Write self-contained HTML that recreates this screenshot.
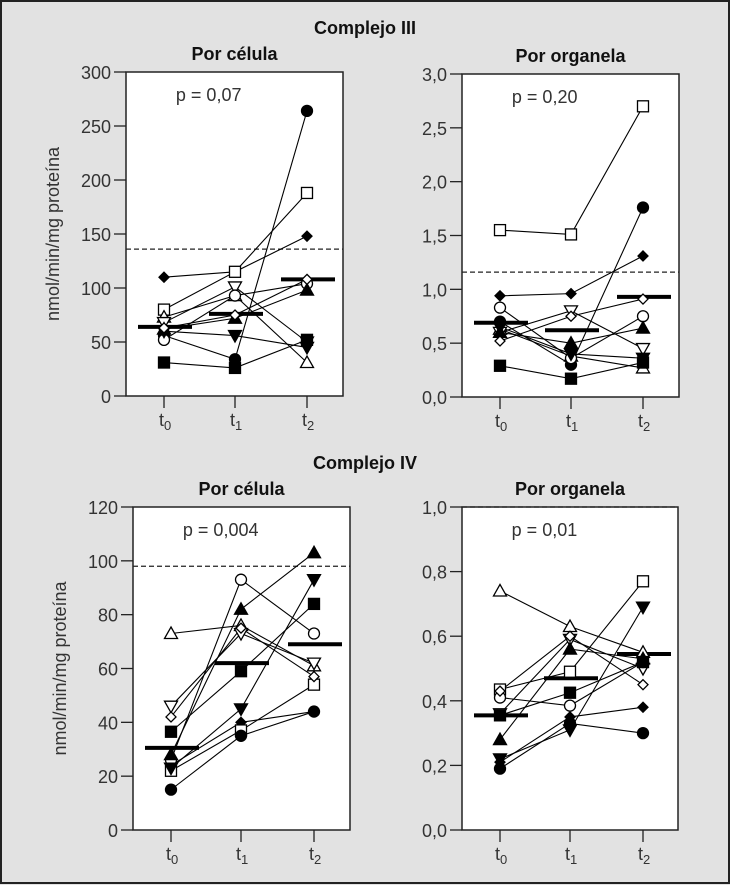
<!DOCTYPE html>
<html><head><meta charset="utf-8"><style>
html,body{margin:0;padding:0;background:#e2e2e2;}
svg{display:block;}
.t{font-family:"Liberation Sans Narrow","Liberation Sans",sans-serif;font-weight:bold;font-size:18px;fill:#111;}
.k{font-family:"Liberation Sans",sans-serif;font-size:18px;fill:#333;}
</style></head><body>
<svg id="c" width="730" height="885" xmlns="http://www.w3.org/2000/svg">
<rect x="1" y="1" width="728" height="882" fill="#e2e2e2" stroke="#222" stroke-width="2"/>
<text class="t" x="365" y="34" text-anchor="middle">Complejo III</text>
<text class="t" x="365" y="469" text-anchor="middle">Complejo IV</text>
</svg>
<script>
// Series categories
const timepoints = ["t0","t1","t2"];
const markers = ["fDiam","oSq","fCirc","oTri","oDown","oCirc","fTri","fDown","fSq","oDiam"];
// Panel 1: Complejo III por célula
const p1Values = [[110,115,148],[80,115,188],[56,34,264],[73,93,31],[68,101,50],[52,93,104],[62,72,98],[60,56,45],[31,26,52],[63,75,108]];
const p1Means = [64,76,108];
const p1Ref = 136;
const p1Ticks = [0,50,100,150,200,250,300];
const p1TickLabels = ["0","50","100","150","200","250","300"];
// Panel 2: Complejo III por organela
const p2Values = [[0.94,0.96,1.31],[1.55,1.51,2.70],[0.70,0.30,1.76],[0.63,0.38,0.27],[0.60,0.80,0.45],[0.83,0.36,0.75],[0.60,0.50,0.64],[0.65,0.40,0.36],[0.29,0.17,0.32],[0.52,0.75,0.91]];
const p2Means = [0.69,0.62,0.93];
const p2Ref = 1.16;
const p2Ticks = [0,0.5,1,1.5,2,2.5,3];
const p2TickLabels = ["0,0","0,5","1,0","1,5","2,0","2,5","3,0"];
// Panel 3: Complejo IV por célula
const p3Values = [[24,40,44],[22,37,54],[15,35,44],[73,76,61],[46,73,62],[26,93,73],[28,82,103],[23,45,93],[36.5,59,84],[42,75,57]];
const p3Means = [30.5,62,69];
const p3Ref = 98;
const p3Ticks = [0,20,40,60,80,100,120];
const p3TickLabels = ["0","20","40","60","80","100","120"];
// Panel 4: Complejo IV por organela
const p4Values = [[0.21,0.35,0.38],[0.435,0.49,0.77],[0.19,0.33,0.30],[0.74,0.63,0.55],[0.36,0.59,0.50],[0.41,0.385,0.52],[0.28,0.56,0.53],[0.22,0.31,0.69],[0.355,0.425,0.52],[0.43,0.60,0.45]];
const p4Means = [0.355,0.47,0.545];
const p4Ref = 1.0;
const p4Ticks = [0,0.2,0.4,0.6,0.8,1.0];
const p4TickLabels = ["0,0","0,2","0,4","0,6","0,8","1,0"];

const NS="http://www.w3.org/2000/svg";
const svg=document.getElementById('c');
function mk(tag,attrs,parent){const e=document.createElementNS(NS,tag);for(const k in attrs)e.setAttribute(k,attrs[k]);(parent||svg).appendChild(e);return e;}

function marker(g,type,x,y){
  const fill=type[0]==='f'?'#000':'#fff';const s=type.slice(1);let e;
  const st={fill:fill,stroke:'#000','stroke-width':1.3};
  if(s==='Sq'){e=mk('rect',Object.assign({x:x-5.5,y:y-5.5,width:11,height:11},st),g);}
  else if(s==='Circ'){e=mk('circle',Object.assign({cx:x,cy:y,r:5.5},st),g);}
  else if(s==='Tri'){e=mk('polygon',Object.assign({points:`${x},${y-6.5} ${x-6.5},${y+5} ${x+6.5},${y+5}`},st),g);}
  else if(s==='Down'){e=mk('polygon',Object.assign({points:`${x},${y+6.5} ${x-6.5},${y-5} ${x+6.5},${y-5}`},st),g);}
  else {e=mk('polygon',Object.assign({points:`${x},${y-5} ${x+5},${y} ${x},${y+5} ${x-5},${y}`},st),g);}
  
  
}

function panel(id,cfg,values,means,ref,ticks,tickLabels){
  const g=mk('g',{});
  
  
  const {l,r,t,b,ymax,xs,title,ylab}=cfg;
  const ys=v=>b-(v/ymax)*(b-t);
  const xp=i=>xs[i];
  const box=mk('rect',{x:l,y:t,width:r-l,height:b-t,fill:'#fff',stroke:'#222','stroke-width':1.5},g);
  
  
  const tt=mk('text',{class:'t',x:(l+r)/2,y:t-12,'text-anchor':'middle'},g);tt.textContent=title;
  
  
  ticks.forEach((v,i)=>{
    mk('line',{x1:l-12,x2:l,y1:ys(v),y2:ys(v),stroke:'#222','stroke-width':1.3},g);
    const tl=mk('text',{class:'k',x:l-15,y:ys(v)+7,'text-anchor':'end','font-size':'20'},g);tl.textContent=tickLabels[i];
    
    
  });
  timepoints.forEach((tp,i)=>{
    mk('line',{x1:xp(i),x2:xp(i),y1:b,y2:b+12,stroke:'#222','stroke-width':1.3},g);
    const tx=mk('text',{class:'k',x:xp(i)-5,y:b+30,'font-size':'20'},g);
    
    
    tx.textContent='t';
    const sub=mk('tspan',{'font-size':'13','dy':'4'},tx);sub.textContent=tp.slice(1);
  });
  if(ylab){const yl=mk('text',{class:'k',transform:`translate(${l-67},${(t+b)/2}) rotate(-90)`,'text-anchor':'middle','font-size':'19'},g);yl.textContent='nmol/min/mg proteína';
    
    }
  const d=mk('line',{x1:l,x2:r,y1:ys(ref),y2:ys(ref),stroke:'#222','stroke-width':1.3,'stroke-dasharray':'5,3'},g);
  
  
  const pt=mk('text',{class:'k',x:l+(r-l)*0.23,y:t+29,'font-size':'19'},g);pt.textContent=cfg.p;
  
  
  values.forEach((vals,si)=>{
    const pl=mk('polyline',{points:vals.map((v,i)=>xp(i)+','+ys(v)).join(' '),fill:'none',stroke:'#000','stroke-width':1.1},g);
    
    
  });
  means.forEach((m,i)=>{
    const ml=mk('line',{x1:xp(i)-26,x2:xp(i)+28,y1:ys(m),y2:ys(m),stroke:'#000','stroke-width':4},g);
    
    
  });
  values.forEach((vals,si)=>vals.forEach((v,i)=>marker(g,markers[si],xp(i),ys(v))));
}
panel('panel-ciii-celula',{l:126,r:343,t:72,b:396,ymax:300,xs:[164,235,307],title:'Por célula',ylab:true,p:'p = 0,07'},p1Values,p1Means,p1Ref,p1Ticks,p1TickLabels);
panel('panel-ciii-organela',{l:462,r:679,t:74,b:397,ymax:3,xs:[500,571,643],title:'Por organela',ylab:false,p:'p = 0,20'},p2Values,p2Means,p2Ref,p2Ticks,p2TickLabels);
panel('panel-civ-celula',{l:133,r:350,t:507,b:830,ymax:120,xs:[171,241,314],title:'Por célula',ylab:true,p:'p = 0,004'},p3Values,p3Means,p3Ref,p3Ticks,p3TickLabels);
panel('panel-civ-organela',{l:462,r:678,t:507,b:830,ymax:1,xs:[500,570,643],title:'Por organela',ylab:false,p:'p = 0,01'},p4Values,p4Means,p4Ref,p4Ticks,p4TickLabels);
</script>
</body></html>
